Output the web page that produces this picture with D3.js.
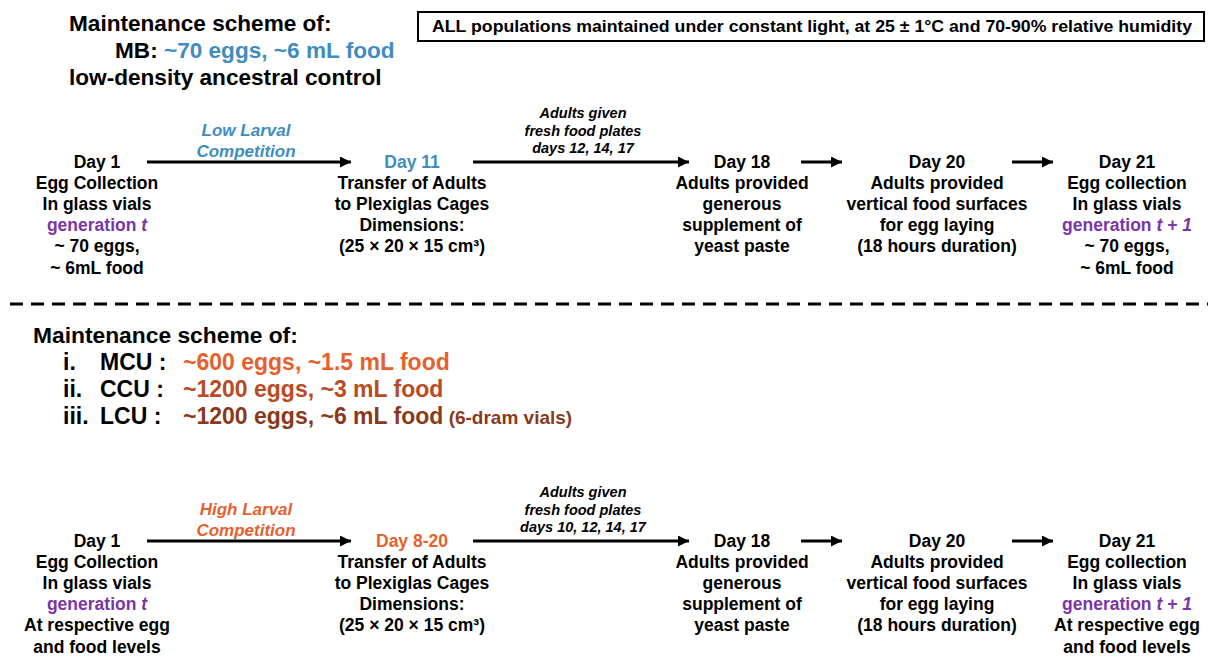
<!DOCTYPE html>
<html>
<head>
<meta charset="utf-8">
<script src="https://cdn.jsdelivr.net/npm/d3@7"></script>
<style>
  body { margin: 0; background: #fff; }
  svg { display: block; font-family: Arial, "Liberation Sans", sans-serif; font-weight: bold; }
</style>
</head>
<body>
<svg id="scheme" width="1208" height="657"></svg>
<script>
// text content of the scheme (a line is a string, or a list of [text, colour, italic] pieces)
const boxNote = "ALL populations maintained under constant light, at 25 \u00b1 1\u00b0C and 70-90% relative humidity";

const mbHeader = [
    "Maintenance scheme of:",
    [["MB: ", "k"], ["~70 eggs, ~6 mL food", "blue"]],
    "low-density ancestral control"
];

const cuHeader = "Maintenance scheme of:";
const cuNums = ["i.", "ii.", "iii."];
const cuNames = ["MCU :", "CCU :", "LCU :"];
const cuValues = ["~600 eggs, ~1.5 mL food", "~1200 eggs, ~3 mL food", "~1200 eggs, ~6 mL food"];
const cuNotes = ["", "", "(6-dram vials)"];
const cuColors = ["mcu", "ccu", "lcu"];

const stagesTop = [
    ["Day 1", "Egg Collection", "In glass vials", [["generation ", "purple"], ["t", "purple", 1]], "~ 70 eggs,", "~ 6mL food"],
    [[["Day 11", "blue"]], "Transfer of Adults", "to Plexiglas Cages", "Dimensions:", "(25 \u00d7 20 \u00d7 15 cm\u00b3)"],
    ["Day 18", "Adults provided", "generous", "supplement of", "yeast paste"],
    ["Day 20", "Adults provided", "vertical food surfaces", "for egg laying", "(18 hours duration)"],
    ["Day 21", "Egg collection", "In glass vials", [["generation ", "purple"], ["t + 1", "purple", 1]], "~ 70 eggs,", "~ 6mL food"]
];

const stagesBottom = [
    ["Day 1", "Egg Collection", "In glass vials", [["generation ", "purple"], ["t", "purple", 1]], "At respective egg", "and food levels"],
    [[["Day 8-20", "mcu"]], "Transfer of Adults", "to Plexiglas Cages", "Dimensions:", "(25 \u00d7 20 \u00d7 15 cm\u00b3)"],
    ["Day 18", "Adults provided", "generous", "supplement of", "yeast paste"],
    ["Day 20", "Adults provided", "vertical food surfaces", "for egg laying", "(18 hours duration)"],
    ["Day 21", "Egg collection", "In glass vials", [["generation ", "purple"], ["t + 1", "purple", 1]], "At respective egg", "and food levels"]
];

const competitionTop = [[["Low Larval", "blue", 1]], [["Competition", "blue", 1]]];
const competitionBottom = [[["High Larval", "mcu", 1]], [["Competition", "mcu", 1]]];
const feedingTop = ["Adults given", "fresh food plates", "days 12, 14, 17"];
const feedingBottom = ["Adults given", "fresh food plates", "days 10, 12, 14, 17"];

// colours
const palette = {
    k: "#000000",
    blue: "#3f8dbf",
    purple: "#7a35a8",
    mcu: "#e6602d",
    ccu: "#b84a24",
    lcu: "#8a3a1c"
};

const svg = d3.select("#scheme");

svg.append("defs").append("marker")
    .attr("id", "head")
    .attr("viewBox", "0 0 10 10")
    .attr("refX", 10).attr("refY", 5)
    .attr("markerUnits", "userSpaceOnUse")
    .attr("markerWidth", 11).attr("markerHeight", 11)
    .attr("orient", "auto")
    .append("path").attr("d", "M0,0 L10,5 L0,10 Z").attr("fill", "#000");

// one text line, made of coloured pieces
function writeLine(g, line, x, y, size, anchor, italicAll) {
    const pieces = typeof line === "string" ? [[line, "k"]] : line;
    const t = g.append("text")
        .attr("x", x).attr("y", y)
        .attr("font-size", size)
        .attr("text-anchor", anchor);
    pieces.forEach(p => {
        t.append("tspan")
            .attr("fill", palette[p[1]])
            .attr("font-style", (p[2] || italicAll) ? "italic" : "normal")
            .text(p[0]);
    });
    return t;
}

function writeBlock(g, lines, x, y0, step, size, anchor, italicAll) {
    lines.forEach((line, i) => writeLine(g, line, x, y0 + i * step, size, anchor, italicAll));
}

function arrow(g, x1, x2, y) {
    g.append("line")
        .attr("x1", x1).attr("x2", x2)
        .attr("y1", y).attr("y2", y)
        .attr("stroke", "#000").attr("stroke-width", 3)
        .attr("marker-end", "url(#head)");
}

// header MB
const head = svg.append("g");
const headX = [69, 115, 69];
mbHeader.forEach((line, i) => writeLine(head, line, headX[i], 31 + i * 27, 22.6, "start"));

// boxed note
head.append("rect")
    .attr("x", 418).attr("y", 12)
    .attr("width", 786).attr("height", 29)
    .attr("fill", "#fff").attr("stroke", "#000").attr("stroke-width", 2);
head.append("text")
    .attr("x", 432).attr("y", 32)
    .attr("font-family", "'Liberation Sans Narrow', 'Arial Narrow', Arial, sans-serif")
    .attr("font-size", 17)
    .attr("textLength", 760).attr("lengthAdjust", "spacingAndGlyphs")
    .text(boxNote);

// flows
const stageX = [97, 412, 742, 937, 1127];
const arrowSpans = [[147, 351], [473, 689], [801, 842], [1012, 1053]];

function drawFlow(stages, competition, feeding, y0) {
    const g = svg.append("g");
    stages.forEach((lines, i) => writeBlock(g, lines, stageX[i], y0, 21.1, 17.5, "middle"));
    const ay = y0 - 6;
    arrowSpans.forEach(s => arrow(g, s[0], s[1], ay));
    writeBlock(g, competition, 246, ay - 26, 21, 17, "middle");
    writeBlock(g, feeding, 583, ay - 44, 17.5, 14.5, "middle", true);
}

drawFlow(stagesTop, competitionTop, feedingTop, 168);

// dashed separator
svg.append("line")
    .attr("x1", 10).attr("x2", 1208)
    .attr("y1", 304).attr("y2", 304)
    .attr("stroke", "#000").attr("stroke-width", 3)
    .attr("stroke-dasharray", "13,8");

// header CU
const cu = svg.append("g");
writeLine(cu, cuHeader, 33, 343, 22.8, "start");
cuNames.forEach((name, i) => {
    const y = 370 + i * 27;
    writeLine(cu, cuNums[i], 63, y, 23, "start");
    writeLine(cu, name, 100, y, 23, "start");
    const t = writeLine(cu, [[cuValues[i], cuColors[i]]], 183, y, 23, "start");
    if (cuNotes[i]) {
        t.append("tspan").attr("fill", palette[cuColors[i]])
            .attr("font-size", 19).text(" " + cuNotes[i]);
    }
});

drawFlow(stagesBottom, competitionBottom, feedingBottom, 547);
</script>
</body>
</html>
